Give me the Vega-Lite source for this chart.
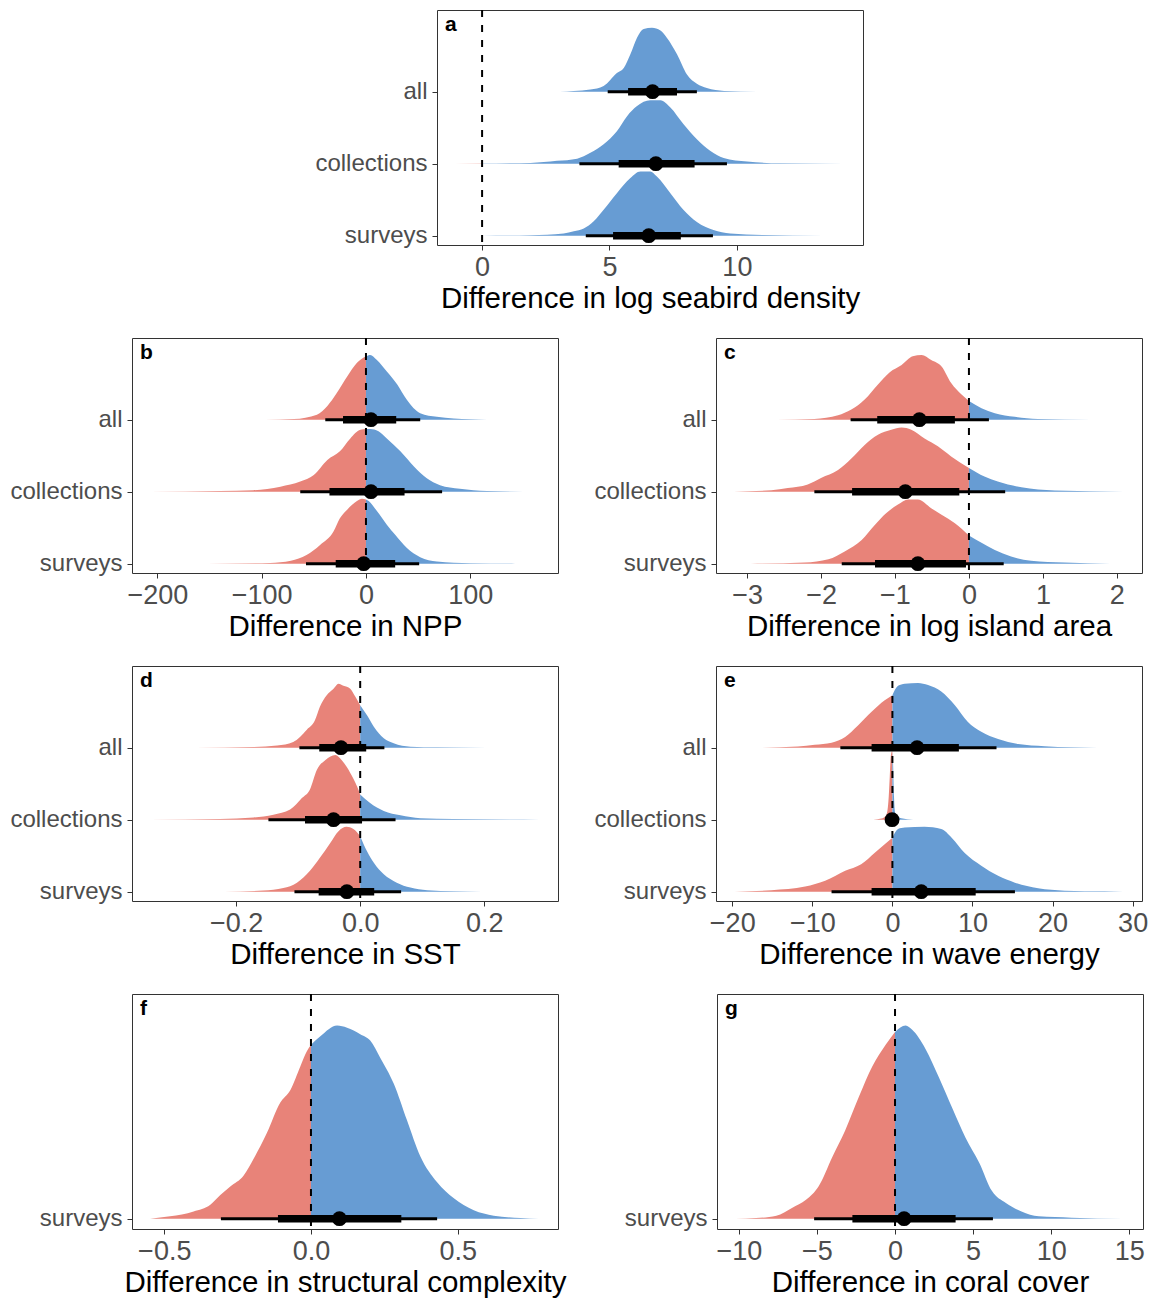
{
"$schema": "https://vega.github.io/schema/vega-lite/v6.json",
"padding": {"left": 9, "top": 8, "right": 5, "bottom": 5},
"spacing": 23,
"config": {
 "font": "Liberation Sans",
 "view": {"stroke": "#333333", "strokeWidth": 1},
 "title": {"anchor": "start", "frame": "group", "orient": "top", "fontSize": 21, "fontWeight": "bold", "font": "Liberation Sans", "color": "#000000", "offset": -26, "dx": 8, "baseline": "alphabetic"},
 "axis": {"grid": false, "domain": false, "tickColor": "#333333", "tickSize": 5, "tickWidth": 1, "labelColor": "#4D4D4D", "titleColor": "#000000", "labelFont": "Liberation Sans", "titleFont": "Liberation Sans", "titleFontWeight": "normal", "labelOverlap": false},
 "axisX": {"labelFontSize": 27, "titleFontSize": 29.5, "labelPadding": 4, "titlePadding": 4, "labelFlush": false},
 "axisY": {"labelFontSize": 24, "labelPadding": 5}
},
"datasets": {
 "dens": [
  {"p":"a","c":"all","x":3.05,"d":0},{"p":"a","c":"all","x":3.6,"d":0.01},{"p":"a","c":"all","x":4.25,"d":0.03},{"p":"a","c":"all","x":4.77,"d":0.08},{"p":"a","c":"all","x":5.29,"d":0.26},{"p":"a","c":"all","x":5.56,"d":0.33},{"p":"a","c":"all","x":5.82,"d":0.52},{"p":"a","c":"all","x":6.08,"d":0.75},{"p":"a","c":"all","x":6.34,"d":0.87},{"p":"a","c":"all","x":6.67,"d":0.89},{"p":"a","c":"all","x":7.0,"d":0.85},{"p":"a","c":"all","x":7.25,"d":0.75},{"p":"a","c":"all","x":7.65,"d":0.52},{"p":"a","c":"all","x":8.04,"d":0.24},{"p":"a","c":"all","x":8.43,"d":0.11},{"p":"a","c":"all","x":8.82,"d":0.05},{"p":"a","c":"all","x":9.5,"d":0.01},{"p":"a","c":"all","x":10.8,"d":0},
  {"p":"a","c":"collections","x":-1.05,"d":0},{"p":"a","c":"collections","x":0,"d":0.002},{"p":"a","c":"collections","x":1.9,"d":0.01},{"p":"a","c":"collections","x":2.94,"d":0.04},{"p":"a","c":"collections","x":3.73,"d":0.07},{"p":"a","c":"collections","x":4.25,"d":0.15},{"p":"a","c":"collections","x":4.77,"d":0.27},{"p":"a","c":"collections","x":5.29,"d":0.45},{"p":"a","c":"collections","x":5.69,"d":0.66},{"p":"a","c":"collections","x":6.08,"d":0.8},{"p":"a","c":"collections","x":6.6,"d":0.88},{"p":"a","c":"collections","x":7.0,"d":0.88},{"p":"a","c":"collections","x":7.39,"d":0.78},{"p":"a","c":"collections","x":7.9,"d":0.55},{"p":"a","c":"collections","x":8.43,"d":0.34},{"p":"a","c":"collections","x":8.95,"d":0.18},{"p":"a","c":"collections","x":9.48,"d":0.08},{"p":"a","c":"collections","x":10.4,"d":0.03},{"p":"a","c":"collections","x":11.7,"d":0.005},{"p":"a","c":"collections","x":14.2,"d":0},
  {"p":"a","c":"surveys","x":0,"d":0},{"p":"a","c":"surveys","x":1.9,"d":0.005},{"p":"a","c":"surveys","x":3.2,"d":0.03},{"p":"a","c":"surveys","x":3.6,"d":0.06},{"p":"a","c":"surveys","x":3.99,"d":0.1},{"p":"a","c":"surveys","x":4.38,"d":0.2},{"p":"a","c":"surveys","x":4.77,"d":0.36},{"p":"a","c":"surveys","x":5.29,"d":0.59},{"p":"a","c":"surveys","x":5.82,"d":0.8},{"p":"a","c":"surveys","x":6.21,"d":0.89},{"p":"a","c":"surveys","x":6.6,"d":0.89},{"p":"a","c":"surveys","x":6.86,"d":0.82},{"p":"a","c":"surveys","x":7.39,"d":0.59},{"p":"a","c":"surveys","x":7.9,"d":0.36},{"p":"a","c":"surveys","x":8.43,"d":0.19},{"p":"a","c":"surveys","x":9.08,"d":0.08},{"p":"a","c":"surveys","x":9.74,"d":0.03},{"p":"a","c":"surveys","x":11.0,"d":0.01},{"p":"a","c":"surveys","x":13.4,"d":0},

  {"p":"b","c":"all","x":-96.5,"d":0},{"p":"b","c":"all","x":-69,"d":0.01},{"p":"b","c":"all","x":-47,"d":0.07},{"p":"b","c":"all","x":-37,"d":0.19},{"p":"b","c":"all","x":-28,"d":0.37},{"p":"b","c":"all","x":-18,"d":0.6},{"p":"b","c":"all","x":-8.6,"d":0.79},{"p":"b","c":"all","x":0,"d":0.88},{"p":"b","c":"all","x":4,"d":0.9},{"p":"b","c":"all","x":10.5,"d":0.83},{"p":"b","c":"all","x":20,"d":0.67},{"p":"b","c":"all","x":30,"d":0.49},{"p":"b","c":"all","x":39,"d":0.28},{"p":"b","c":"all","x":52,"d":0.09},{"p":"b","c":"all","x":68,"d":0.04},{"p":"b","c":"all","x":100,"d":0.005},{"p":"b","c":"all","x":116,"d":0},
  {"p":"b","c":"collections","x":-207,"d":0},{"p":"b","c":"collections","x":-140,"d":0.01},{"p":"b","c":"collections","x":-108,"d":0.02},{"p":"b","c":"collections","x":-82,"d":0.07},{"p":"b","c":"collections","x":-63,"d":0.14},{"p":"b","c":"collections","x":-50,"d":0.23},{"p":"b","c":"collections","x":-37,"d":0.44},{"p":"b","c":"collections","x":-25,"d":0.56},{"p":"b","c":"collections","x":-15,"d":0.74},{"p":"b","c":"collections","x":-5.4,"d":0.86},{"p":"b","c":"collections","x":0,"d":0.87},{"p":"b","c":"collections","x":4,"d":0.87},{"p":"b","c":"collections","x":12,"d":0.84},{"p":"b","c":"collections","x":20,"d":0.74},{"p":"b","c":"collections","x":33,"d":0.56},{"p":"b","c":"collections","x":46,"d":0.35},{"p":"b","c":"collections","x":58,"d":0.19},{"p":"b","c":"collections","x":71,"d":0.09},{"p":"b","c":"collections","x":90,"d":0.04},{"p":"b","c":"collections","x":116,"d":0.01},{"p":"b","c":"collections","x":166,"d":0},
  {"p":"b","c":"surveys","x":-152,"d":0},{"p":"b","c":"surveys","x":-92,"d":0.01},{"p":"b","c":"surveys","x":-72,"d":0.04},{"p":"b","c":"surveys","x":-57,"d":0.12},{"p":"b","c":"surveys","x":-44,"d":0.26},{"p":"b","c":"surveys","x":-31,"d":0.45},{"p":"b","c":"surveys","x":-25,"d":0.63},{"p":"b","c":"surveys","x":-18,"d":0.75},{"p":"b","c":"surveys","x":-8.6,"d":0.87},{"p":"b","c":"surveys","x":-3.8,"d":0.9},{"p":"b","c":"surveys","x":0,"d":0.89},{"p":"b","c":"surveys","x":2.6,"d":0.87},{"p":"b","c":"surveys","x":10.5,"d":0.73},{"p":"b","c":"surveys","x":20,"d":0.54},{"p":"b","c":"surveys","x":28,"d":0.4},{"p":"b","c":"surveys","x":39,"d":0.22},{"p":"b","c":"surveys","x":52,"d":0.09},{"p":"b","c":"surveys","x":68,"d":0.03},{"p":"b","c":"surveys","x":100,"d":0.005},{"p":"b","c":"surveys","x":143,"d":0},

  {"p":"c","c":"all","x":-2.6,"d":0},{"p":"c","c":"all","x":-2.09,"d":0.01},{"p":"c","c":"all","x":-1.77,"d":0.06},{"p":"c","c":"all","x":-1.59,"d":0.14},{"p":"c","c":"all","x":-1.41,"d":0.28},{"p":"c","c":"all","x":-1.23,"d":0.49},{"p":"c","c":"all","x":-1.07,"d":0.66},{"p":"c","c":"all","x":-0.91,"d":0.76},{"p":"c","c":"all","x":-0.76,"d":0.88},{"p":"c","c":"all","x":-0.64,"d":0.9},{"p":"c","c":"all","x":-0.51,"d":0.83},{"p":"c","c":"all","x":-0.37,"d":0.74},{"p":"c","c":"all","x":-0.24,"d":0.51},{"p":"c","c":"all","x":-0.1,"d":0.35},{"p":"c","c":"all","x":0,"d":0.26},{"p":"c","c":"all","x":0.17,"d":0.16},{"p":"c","c":"all","x":0.35,"d":0.09},{"p":"c","c":"all","x":0.62,"d":0.04},{"p":"c","c":"all","x":0.93,"d":0.01},{"p":"c","c":"all","x":1.65,"d":0},
  {"p":"c","c":"collections","x":-3.18,"d":0},{"p":"c","c":"collections","x":-2.67,"d":0.02},{"p":"c","c":"collections","x":-2.45,"d":0.05},{"p":"c","c":"collections","x":-2.18,"d":0.1},{"p":"c","c":"collections","x":-2.0,"d":0.19},{"p":"c","c":"collections","x":-1.77,"d":0.3},{"p":"c","c":"collections","x":-1.59,"d":0.46},{"p":"c","c":"collections","x":-1.41,"d":0.65},{"p":"c","c":"collections","x":-1.23,"d":0.79},{"p":"c","c":"collections","x":-1.05,"d":0.86},{"p":"c","c":"collections","x":-0.91,"d":0.89},{"p":"c","c":"collections","x":-0.78,"d":0.86},{"p":"c","c":"collections","x":-0.6,"d":0.74},{"p":"c","c":"collections","x":-0.42,"d":0.63},{"p":"c","c":"collections","x":-0.24,"d":0.49},{"p":"c","c":"collections","x":0,"d":0.33},{"p":"c","c":"collections","x":0.21,"d":0.21},{"p":"c","c":"collections","x":0.39,"d":0.14},{"p":"c","c":"collections","x":0.71,"d":0.06},{"p":"c","c":"collections","x":1.16,"d":0.015},{"p":"c","c":"collections","x":2.09,"d":0},
  {"p":"c","c":"surveys","x":-2.95,"d":0},{"p":"c","c":"surveys","x":-2.22,"d":0.015},{"p":"c","c":"surveys","x":-1.9,"d":0.06},{"p":"c","c":"surveys","x":-1.68,"d":0.17},{"p":"c","c":"surveys","x":-1.45,"d":0.33},{"p":"c","c":"surveys","x":-1.27,"d":0.54},{"p":"c","c":"surveys","x":-1.12,"d":0.7},{"p":"c","c":"surveys","x":-0.96,"d":0.82},{"p":"c","c":"surveys","x":-0.82,"d":0.89},{"p":"c","c":"surveys","x":-0.69,"d":0.89},{"p":"c","c":"surveys","x":-0.51,"d":0.77},{"p":"c","c":"surveys","x":-0.37,"d":0.68},{"p":"c","c":"surveys","x":-0.19,"d":0.56},{"p":"c","c":"surveys","x":0,"d":0.39},{"p":"c","c":"surveys","x":0.17,"d":0.29},{"p":"c","c":"surveys","x":0.35,"d":0.19},{"p":"c","c":"surveys","x":0.57,"d":0.1},{"p":"c","c":"surveys","x":0.84,"d":0.04},{"p":"c","c":"surveys","x":1.29,"d":0.015},{"p":"c","c":"surveys","x":1.91,"d":0},

  {"p":"d","c":"all","x":-0.265,"d":0},{"p":"d","c":"all","x":-0.172,"d":0.01},{"p":"d","c":"all","x":-0.134,"d":0.03},{"p":"d","c":"all","x":-0.108,"d":0.08},{"p":"d","c":"all","x":-0.086,"d":0.25},{"p":"d","c":"all","x":-0.073,"d":0.38},{"p":"d","c":"all","x":-0.065,"d":0.57},{"p":"d","c":"all","x":-0.054,"d":0.73},{"p":"d","c":"all","x":-0.043,"d":0.82},{"p":"d","c":"all","x":-0.035,"d":0.89},{"p":"d","c":"all","x":-0.027,"d":0.86},{"p":"d","c":"all","x":-0.016,"d":0.82},{"p":"d","c":"all","x":-0.008,"d":0.71},{"p":"d","c":"all","x":0,"d":0.59},{"p":"d","c":"all","x":0.011,"d":0.45},{"p":"d","c":"all","x":0.022,"d":0.29},{"p":"d","c":"all","x":0.038,"d":0.13},{"p":"d","c":"all","x":0.054,"d":0.06},{"p":"d","c":"all","x":0.081,"d":0.014},{"p":"d","c":"all","x":0.124,"d":0.005},{"p":"d","c":"all","x":0.204,"d":0},
  {"p":"d","c":"collections","x":-0.339,"d":0},{"p":"d","c":"collections","x":-0.226,"d":0.01},{"p":"d","c":"collections","x":-0.172,"d":0.03},{"p":"d","c":"collections","x":-0.14,"d":0.07},{"p":"d","c":"collections","x":-0.113,"d":0.14},{"p":"d","c":"collections","x":-0.094,"d":0.3},{"p":"d","c":"collections","x":-0.081,"d":0.42},{"p":"d","c":"collections","x":-0.07,"d":0.69},{"p":"d","c":"collections","x":-0.056,"d":0.83},{"p":"d","c":"collections","x":-0.04,"d":0.9},{"p":"d","c":"collections","x":-0.03,"d":0.83},{"p":"d","c":"collections","x":-0.016,"d":0.65},{"p":"d","c":"collections","x":-0.005,"d":0.46},{"p":"d","c":"collections","x":0,"d":0.35},{"p":"d","c":"collections","x":0.016,"d":0.23},{"p":"d","c":"collections","x":0.038,"d":0.12},{"p":"d","c":"collections","x":0.065,"d":0.06},{"p":"d","c":"collections","x":0.097,"d":0.02},{"p":"d","c":"collections","x":0.15,"d":0.01},{"p":"d","c":"collections","x":0.289,"d":0},
  {"p":"d","c":"surveys","x":-0.219,"d":0},{"p":"d","c":"surveys","x":-0.156,"d":0.015},{"p":"d","c":"surveys","x":-0.124,"d":0.05},{"p":"d","c":"surveys","x":-0.102,"d":0.125},{"p":"d","c":"surveys","x":-0.081,"d":0.29},{"p":"d","c":"surveys","x":-0.065,"d":0.47},{"p":"d","c":"surveys","x":-0.048,"d":0.68},{"p":"d","c":"surveys","x":-0.035,"d":0.84},{"p":"d","c":"surveys","x":-0.022,"d":0.9},{"p":"d","c":"surveys","x":-0.011,"d":0.87},{"p":"d","c":"surveys","x":0,"d":0.77},{"p":"d","c":"surveys","x":0.011,"d":0.56},{"p":"d","c":"surveys","x":0.022,"d":0.4},{"p":"d","c":"surveys","x":0.038,"d":0.24},{"p":"d","c":"surveys","x":0.059,"d":0.125},{"p":"d","c":"surveys","x":0.081,"d":0.056},{"p":"d","c":"surveys","x":0.108,"d":0.02},{"p":"d","c":"surveys","x":0.151,"d":0.005},{"p":"d","c":"surveys","x":0.196,"d":0},

  {"p":"e","c":"all","x":-16.5,"d":0},{"p":"e","c":"all","x":-11.8,"d":0.015},{"p":"e","c":"all","x":-9.7,"d":0.04},{"p":"e","c":"all","x":-7.6,"d":0.07},{"p":"e","c":"all","x":-5.9,"d":0.15},{"p":"e","c":"all","x":-4.3,"d":0.31},{"p":"e","c":"all","x":-2.6,"d":0.5},{"p":"e","c":"all","x":-0.96,"d":0.66},{"p":"e","c":"all","x":0,"d":0.73},{"p":"e","c":"all","x":0.7,"d":0.86},{"p":"e","c":"all","x":1.54,"d":0.89},{"p":"e","c":"all","x":3.2,"d":0.9},{"p":"e","c":"all","x":4.45,"d":0.87},{"p":"e","c":"all","x":6.1,"d":0.78},{"p":"e","c":"all","x":7.8,"d":0.59},{"p":"e","c":"all","x":9.4,"d":0.36},{"p":"e","c":"all","x":11.1,"d":0.22},{"p":"e","c":"all","x":13.2,"d":0.12},{"p":"e","c":"all","x":15.7,"d":0.05},{"p":"e","c":"all","x":19,"d":0.02},{"p":"e","c":"all","x":22.3,"d":0.005},{"p":"e","c":"all","x":25.6,"d":0},
  {"p":"e","c":"collections","x":-2.4,"d":0},{"p":"e","c":"collections","x":-1.37,"d":0.015},{"p":"e","c":"collections","x":-0.75,"d":0.07},{"p":"e","c":"collections","x":-0.46,"d":0.32},{"p":"e","c":"collections","x":-0.33,"d":0.6},{"p":"e","c":"collections","x":-0.2,"d":0.88},{"p":"e","c":"collections","x":-0.04,"d":0.95},{"p":"e","c":"collections","x":0,"d":0.93},{"p":"e","c":"collections","x":0.08,"d":0.79},{"p":"e","c":"collections","x":0.2,"d":0.32},{"p":"e","c":"collections","x":0.37,"d":0.09},{"p":"e","c":"collections","x":1.1,"d":0.02},{"p":"e","c":"collections","x":2.6,"d":0},
  {"p":"e","c":"surveys","x":-19.7,"d":0},{"p":"e","c":"surveys","x":-15.1,"d":0.02},{"p":"e","c":"surveys","x":-10.9,"d":0.07},{"p":"e","c":"surveys","x":-8.4,"d":0.15},{"p":"e","c":"surveys","x":-5.9,"d":0.29},{"p":"e","c":"surveys","x":-3.9,"d":0.38},{"p":"e","c":"surveys","x":-2.2,"d":0.54},{"p":"e","c":"surveys","x":-0.96,"d":0.66},{"p":"e","c":"surveys","x":0,"d":0.75},{"p":"e","c":"surveys","x":0.7,"d":0.87},{"p":"e","c":"surveys","x":1.54,"d":0.89},{"p":"e","c":"surveys","x":4.0,"d":0.9},{"p":"e","c":"surveys","x":6.1,"d":0.87},{"p":"e","c":"surveys","x":7.4,"d":0.75},{"p":"e","c":"surveys","x":9.0,"d":0.54},{"p":"e","c":"surveys","x":11.1,"d":0.36},{"p":"e","c":"surveys","x":13.2,"d":0.22},{"p":"e","c":"surveys","x":15.3,"d":0.125},{"p":"e","c":"surveys","x":18.2,"d":0.046},{"p":"e","c":"surveys","x":21.5,"d":0.014},{"p":"e","c":"surveys","x":26.5,"d":0.005},{"p":"e","c":"surveys","x":28.8,"d":0},

  {"p":"f","c":"surveys","x":-0.548,"d":0},{"p":"f","c":"surveys","x":-0.48,"d":0.011},{"p":"f","c":"surveys","x":-0.4,"d":0.034},{"p":"f","c":"surveys","x":-0.343,"d":0.065},{"p":"f","c":"surveys","x":-0.309,"d":0.11},{"p":"f","c":"surveys","x":-0.275,"d":0.15},{"p":"f","c":"surveys","x":-0.23,"d":0.2},{"p":"f","c":"surveys","x":-0.195,"d":0.28},{"p":"f","c":"surveys","x":-0.15,"d":0.4},{"p":"f","c":"surveys","x":-0.105,"d":0.54},{"p":"f","c":"surveys","x":-0.07,"d":0.6},{"p":"f","c":"surveys","x":-0.036,"d":0.71},{"p":"f","c":"surveys","x":-0.014,"d":0.78},{"p":"f","c":"surveys","x":0,"d":0.81},{"p":"f","c":"surveys","x":0.032,"d":0.85},{"p":"f","c":"surveys","x":0.089,"d":0.9},{"p":"f","c":"surveys","x":0.123,"d":0.89},{"p":"f","c":"surveys","x":0.168,"d":0.86},{"p":"f","c":"surveys","x":0.202,"d":0.83},{"p":"f","c":"surveys","x":0.236,"d":0.75},{"p":"f","c":"surveys","x":0.282,"d":0.63},{"p":"f","c":"surveys","x":0.327,"d":0.46},{"p":"f","c":"surveys","x":0.373,"d":0.29},{"p":"f","c":"surveys","x":0.43,"d":0.17},{"p":"f","c":"surveys","x":0.486,"d":0.096},{"p":"f","c":"surveys","x":0.555,"d":0.039},{"p":"f","c":"surveys","x":0.623,"d":0.014},{"p":"f","c":"surveys","x":0.714,"d":0.003},{"p":"f","c":"surveys","x":0.776,"d":0},

  {"p":"g","c":"surveys","x":-10.2,"d":0},{"p":"g","c":"surveys","x":-8.9,"d":0.003},{"p":"g","c":"surveys","x":-7.6,"d":0.014},{"p":"g","c":"surveys","x":-6.6,"d":0.05},{"p":"g","c":"surveys","x":-5.7,"d":0.088},{"p":"g","c":"surveys","x":-4.9,"d":0.15},{"p":"g","c":"surveys","x":-4.0,"d":0.29},{"p":"g","c":"surveys","x":-3.2,"d":0.41},{"p":"g","c":"surveys","x":-2.3,"d":0.57},{"p":"g","c":"surveys","x":-1.45,"d":0.71},{"p":"g","c":"surveys","x":-0.6,"d":0.81},{"p":"g","c":"surveys","x":0,"d":0.87},{"p":"g","c":"surveys","x":0.68,"d":0.9},{"p":"g","c":"surveys","x":1.1,"d":0.88},{"p":"g","c":"surveys","x":1.96,"d":0.79},{"p":"g","c":"surveys","x":2.8,"d":0.66},{"p":"g","c":"surveys","x":3.7,"d":0.51},{"p":"g","c":"surveys","x":4.5,"d":0.38},{"p":"g","c":"surveys","x":5.4,"d":0.26},{"p":"g","c":"surveys","x":6.2,"d":0.13},{"p":"g","c":"surveys","x":7.1,"d":0.073},{"p":"g","c":"surveys","x":8.1,"d":0.034},{"p":"g","c":"surveys","x":9.2,"d":0.011},{"p":"g","c":"surveys","x":11.3,"d":0.005},{"p":"g","c":"surveys","x":14.6,"d":0}
 ],
 "iv": [
  {"p":"a","c":"all","k":"pt","x":6.69},{"p":"a","c":"all","k":"thick","x":5.73,"x2":7.65},{"p":"a","c":"all","k":"thin","x":4.93,"x2":8.43},
  {"p":"a","c":"collections","k":"pt","x":6.82},{"p":"a","c":"collections","k":"thick","x":5.36,"x2":8.34},{"p":"a","c":"collections","k":"thin","x":3.82,"x2":9.61},
  {"p":"a","c":"surveys","k":"pt","x":6.54},{"p":"a","c":"surveys","k":"thick","x":5.14,"x2":7.8},{"p":"a","c":"surveys","k":"thin","x":4.07,"x2":9.06},
  {"p":"b","c":"all","k":"pt","x":4.8},{"p":"b","c":"all","k":"thick","x":-22,"x2":29},{"p":"b","c":"all","k":"thin","x":-39,"x2":52},
  {"p":"b","c":"collections","k":"pt","x":4.8},{"p":"b","c":"collections","k":"thick","x":-35,"x2":37},{"p":"b","c":"collections","k":"thin","x":-63,"x2":73},
  {"p":"b","c":"surveys","k":"pt","x":-2.2},{"p":"b","c":"surveys","k":"thick","x":-29,"x2":28},{"p":"b","c":"surveys","k":"thin","x":-57.5,"x2":51},
  {"p":"c","c":"all","k":"pt","x":-0.67},{"p":"c","c":"all","k":"thick","x":-1.24,"x2":-0.19},{"p":"c","c":"all","k":"thin","x":-1.6,"x2":0.27},
  {"p":"c","c":"collections","k":"pt","x":-0.86},{"p":"c","c":"collections","k":"thick","x":-1.58,"x2":-0.13},{"p":"c","c":"collections","k":"thin","x":-2.09,"x2":0.49},
  {"p":"c","c":"surveys","k":"pt","x":-0.69},{"p":"c","c":"surveys","k":"thick","x":-1.27,"x2":-0.04},{"p":"c","c":"surveys","k":"thin","x":-1.72,"x2":0.47},
  {"p":"d","c":"all","k":"pt","x":-0.031},{"p":"d","c":"all","k":"thick","x":-0.066,"x2":0.0097},{"p":"d","c":"all","k":"thin","x":-0.098,"x2":0.039},
  {"p":"d","c":"collections","k":"pt","x":-0.043},{"p":"d","c":"collections","k":"thick","x":-0.089,"x2":0.003},{"p":"d","c":"collections","k":"thin","x":-0.148,"x2":0.057},
  {"p":"d","c":"surveys","k":"pt","x":-0.0215},{"p":"d","c":"surveys","k":"thick","x":-0.067,"x2":0.0226},{"p":"d","c":"surveys","k":"thin","x":-0.106,"x2":0.066},
  {"p":"e","c":"all","k":"pt","x":3.08},{"p":"e","c":"all","k":"thick","x":-2.6,"x2":8.3},{"p":"e","c":"all","k":"thin","x":-6.5,"x2":13},
  {"p":"e","c":"collections","k":"pt","x":-0.04},{"p":"e","c":"collections","k":"thick","x":-0.3,"x2":0.2},{"p":"e","c":"collections","k":"thin","x":-0.6,"x2":0.5},
  {"p":"e","c":"surveys","k":"pt","x":3.6},{"p":"e","c":"surveys","k":"thick","x":-2.6,"x2":10.4},{"p":"e","c":"surveys","k":"thin","x":-7.6,"x2":15.3},
  {"p":"f","c":"surveys","k":"pt","x":0.097},{"p":"f","c":"surveys","k":"thick","x":-0.1125,"x2":0.308},{"p":"f","c":"surveys","k":"thin","x":-0.307,"x2":0.43},
  {"p":"g","c":"surveys","k":"pt","x":0.58},{"p":"g","c":"surveys","k":"thick","x":-2.73,"x2":3.88},{"p":"g","c":"surveys","k":"thin","x":-5.18,"x2":6.27}
 ]
},
"vconcat": [
 {"spacing": 34, "hconcat": [
  {"width": 148, "height": 10, "view": {"stroke": null}, "data": {"values": [{"v": 0}]}, "mark": {"type": "point", "opacity": 0}, "encoding": {}},
  {"width": 426, "height": 235, "title": "a",
   "encoding": {"x": {"field": "x", "type": "quantitative", "title": "Difference in log seabird density", "scale": {"domain": [-1.77, 14.95], "nice": false, "zero": false}, "axis": {"values": [0, 5, 10]}}},
   "layer": [
    {"data": {"name": "dens"}, "transform": [{"filter": "datum.p == 'a' && datum.x <= 0"}, {"calculate": "datum.c == 'all' ? 2 : (datum.c == 'collections' ? 1 : 0)", "as": "b"}, {"calculate": "datum.b + datum.d", "as": "t"}], "mark": {"type": "area", "color": "#E88379", "interpolate": "monotone"}, "encoding": {"y": {"field": "t", "type": "quantitative", "stack": null, "title": null, "scale": {"domain": [-0.13, 3.135], "nice": false, "zero": false}, "axis": {"values": [0, 1, 2], "labelExpr": "datum.value == 2 ? 'all' : datum.value == 1 ? 'collections' : 'surveys'", "minExtent": 122}}, "y2": {"field": "b"}, "detail": {"field": "c"}}},
    {"data": {"name": "dens"}, "transform": [{"filter": "datum.p == 'a' && datum.x >= 0"}, {"calculate": "datum.c == 'all' ? 2 : (datum.c == 'collections' ? 1 : 0)", "as": "b"}, {"calculate": "datum.b + datum.d", "as": "t"}], "mark": {"type": "area", "color": "#679CD3", "interpolate": "monotone"}, "encoding": {"y": {"field": "t", "type": "quantitative", "stack": null, "title": null, "scale": {"domain": [-0.13, 3.135], "nice": false, "zero": false}}, "y2": {"field": "b"}, "detail": {"field": "c"}}},
    {"data": {"values": [{"x": 0}]}, "mark": {"type": "rule", "color": "black", "strokeWidth": 2, "strokeDash": [7, 8]}, "encoding": {}},
    {"data": {"name": "iv"}, "transform": [{"filter": "datum.p == 'a' && datum.k == 'thin'"}, {"calculate": "datum.c == 'all' ? 2 : (datum.c == 'collections' ? 1 : 0)", "as": "t"}], "mark": {"type": "rule", "color": "black", "strokeWidth": 3}, "encoding": {"y": {"field": "t", "type": "quantitative", "title": null, "scale": {"domain": [-0.13, 3.135], "nice": false, "zero": false}}, "x2": {"field": "x2"}}},
    {"data": {"name": "iv"}, "transform": [{"filter": "datum.p == 'a' && datum.k == 'thick'"}, {"calculate": "datum.c == 'all' ? 2 : (datum.c == 'collections' ? 1 : 0)", "as": "t"}], "mark": {"type": "rule", "color": "black", "strokeWidth": 7.5}, "encoding": {"y": {"field": "t", "type": "quantitative", "title": null, "scale": {"domain": [-0.13, 3.135], "nice": false, "zero": false}}, "x2": {"field": "x2"}}},
    {"data": {"name": "iv"}, "transform": [{"filter": "datum.p == 'a' && datum.k == 'pt'"}, {"calculate": "datum.c == 'all' ? 2 : (datum.c == 'collections' ? 1 : 0)", "as": "t"}], "mark": {"type": "circle", "color": "black", "opacity": 1, "size": 220}, "encoding": {"y": {"field": "t", "type": "quantitative", "title": null, "scale": {"domain": [-0.13, 3.135], "nice": false, "zero": false}}}}
   ]
  }
 ]},
 {"spacing": 34, "hconcat": [
  {"width": 426, "height": 235, "title": "b",
   "encoding": {"x": {"field": "x", "type": "quantitative", "title": "Difference in NPP", "scale": {"domain": [-224.3, 184.1], "nice": false, "zero": false}, "axis": {"values": [-200, -100, 0, 100]}}},
   "layer": [
    {"data": {"name": "dens"}, "transform": [{"filter": "datum.p == 'b' && datum.x <= 0"}, {"calculate": "datum.c == 'all' ? 2 : (datum.c == 'collections' ? 1 : 0)", "as": "b"}, {"calculate": "datum.b + datum.d", "as": "t"}], "mark": {"type": "area", "color": "#E88379", "interpolate": "monotone"}, "encoding": {"y": {"field": "t", "type": "quantitative", "stack": null, "title": null, "scale": {"domain": [-0.13, 3.135], "nice": false, "zero": false}, "axis": {"values": [0, 1, 2], "labelExpr": "datum.value == 2 ? 'all' : datum.value == 1 ? 'collections' : 'surveys'", "minExtent": 122}}, "y2": {"field": "b"}, "detail": {"field": "c"}}},
    {"data": {"name": "dens"}, "transform": [{"filter": "datum.p == 'b' && datum.x >= 0"}, {"calculate": "datum.c == 'all' ? 2 : (datum.c == 'collections' ? 1 : 0)", "as": "b"}, {"calculate": "datum.b + datum.d", "as": "t"}], "mark": {"type": "area", "color": "#679CD3", "interpolate": "monotone"}, "encoding": {"y": {"field": "t", "type": "quantitative", "stack": null, "title": null, "scale": {"domain": [-0.13, 3.135], "nice": false, "zero": false}}, "y2": {"field": "b"}, "detail": {"field": "c"}}},
    {"data": {"values": [{"x": 0}]}, "mark": {"type": "rule", "color": "black", "strokeWidth": 2, "strokeDash": [7, 8]}, "encoding": {}},
    {"data": {"name": "iv"}, "transform": [{"filter": "datum.p == 'b' && datum.k == 'thin'"}, {"calculate": "datum.c == 'all' ? 2 : (datum.c == 'collections' ? 1 : 0)", "as": "t"}], "mark": {"type": "rule", "color": "black", "strokeWidth": 3}, "encoding": {"y": {"field": "t", "type": "quantitative", "title": null, "scale": {"domain": [-0.13, 3.135], "nice": false, "zero": false}}, "x2": {"field": "x2"}}},
    {"data": {"name": "iv"}, "transform": [{"filter": "datum.p == 'b' && datum.k == 'thick'"}, {"calculate": "datum.c == 'all' ? 2 : (datum.c == 'collections' ? 1 : 0)", "as": "t"}], "mark": {"type": "rule", "color": "black", "strokeWidth": 7.5}, "encoding": {"y": {"field": "t", "type": "quantitative", "title": null, "scale": {"domain": [-0.13, 3.135], "nice": false, "zero": false}}, "x2": {"field": "x2"}}},
    {"data": {"name": "iv"}, "transform": [{"filter": "datum.p == 'b' && datum.k == 'pt'"}, {"calculate": "datum.c == 'all' ? 2 : (datum.c == 'collections' ? 1 : 0)", "as": "t"}], "mark": {"type": "circle", "color": "black", "opacity": 1, "size": 220}, "encoding": {"y": {"field": "t", "type": "quantitative", "title": null, "scale": {"domain": [-0.13, 3.135], "nice": false, "zero": false}}}}
   ]
  },
  {"width": 426, "height": 235, "title": "c",
   "encoding": {"x": {"field": "x", "type": "quantitative", "title": "Difference in log island area", "scale": {"domain": [-3.42, 2.34], "nice": false, "zero": false}, "axis": {"values": [-3, -2, -1, 0, 1, 2]}}},
   "layer": [
    {"data": {"name": "dens"}, "transform": [{"filter": "datum.p == 'c' && datum.x <= 0"}, {"calculate": "datum.c == 'all' ? 2 : (datum.c == 'collections' ? 1 : 0)", "as": "b"}, {"calculate": "datum.b + datum.d", "as": "t"}], "mark": {"type": "area", "color": "#E88379", "interpolate": "monotone"}, "encoding": {"y": {"field": "t", "type": "quantitative", "stack": null, "title": null, "scale": {"domain": [-0.13, 3.135], "nice": false, "zero": false}, "axis": {"values": [0, 1, 2], "labelExpr": "datum.value == 2 ? 'all' : datum.value == 1 ? 'collections' : 'surveys'", "minExtent": 122}}, "y2": {"field": "b"}, "detail": {"field": "c"}}},
    {"data": {"name": "dens"}, "transform": [{"filter": "datum.p == 'c' && datum.x >= 0"}, {"calculate": "datum.c == 'all' ? 2 : (datum.c == 'collections' ? 1 : 0)", "as": "b"}, {"calculate": "datum.b + datum.d", "as": "t"}], "mark": {"type": "area", "color": "#679CD3", "interpolate": "monotone"}, "encoding": {"y": {"field": "t", "type": "quantitative", "stack": null, "title": null, "scale": {"domain": [-0.13, 3.135], "nice": false, "zero": false}}, "y2": {"field": "b"}, "detail": {"field": "c"}}},
    {"data": {"values": [{"x": 0}]}, "mark": {"type": "rule", "color": "black", "strokeWidth": 2, "strokeDash": [7, 8]}, "encoding": {}},
    {"data": {"name": "iv"}, "transform": [{"filter": "datum.p == 'c' && datum.k == 'thin'"}, {"calculate": "datum.c == 'all' ? 2 : (datum.c == 'collections' ? 1 : 0)", "as": "t"}], "mark": {"type": "rule", "color": "black", "strokeWidth": 3}, "encoding": {"y": {"field": "t", "type": "quantitative", "title": null, "scale": {"domain": [-0.13, 3.135], "nice": false, "zero": false}}, "x2": {"field": "x2"}}},
    {"data": {"name": "iv"}, "transform": [{"filter": "datum.p == 'c' && datum.k == 'thick'"}, {"calculate": "datum.c == 'all' ? 2 : (datum.c == 'collections' ? 1 : 0)", "as": "t"}], "mark": {"type": "rule", "color": "black", "strokeWidth": 7.5}, "encoding": {"y": {"field": "t", "type": "quantitative", "title": null, "scale": {"domain": [-0.13, 3.135], "nice": false, "zero": false}}, "x2": {"field": "x2"}}},
    {"data": {"name": "iv"}, "transform": [{"filter": "datum.p == 'c' && datum.k == 'pt'"}, {"calculate": "datum.c == 'all' ? 2 : (datum.c == 'collections' ? 1 : 0)", "as": "t"}], "mark": {"type": "circle", "color": "black", "opacity": 1, "size": 220}, "encoding": {"y": {"field": "t", "type": "quantitative", "title": null, "scale": {"domain": [-0.13, 3.135], "nice": false, "zero": false}}}}
   ]
  }
 ]},
 {"spacing": 34, "hconcat": [
  {"width": 426, "height": 235, "title": "d",
   "encoding": {"x": {"field": "x", "type": "quantitative", "title": "Difference in SST", "scale": {"domain": [-0.368, 0.319], "nice": false, "zero": false}, "axis": {"values": [-0.2, 0, 0.2], "format": ".1f"}}},
   "layer": [
    {"data": {"name": "dens"}, "transform": [{"filter": "datum.p == 'd' && datum.x <= 0"}, {"calculate": "datum.c == 'all' ? 2 : (datum.c == 'collections' ? 1 : 0)", "as": "b"}, {"calculate": "datum.b + datum.d", "as": "t"}], "mark": {"type": "area", "color": "#E88379", "interpolate": "monotone"}, "encoding": {"y": {"field": "t", "type": "quantitative", "stack": null, "title": null, "scale": {"domain": [-0.13, 3.135], "nice": false, "zero": false}, "axis": {"values": [0, 1, 2], "labelExpr": "datum.value == 2 ? 'all' : datum.value == 1 ? 'collections' : 'surveys'", "minExtent": 122}}, "y2": {"field": "b"}, "detail": {"field": "c"}}},
    {"data": {"name": "dens"}, "transform": [{"filter": "datum.p == 'd' && datum.x >= 0"}, {"calculate": "datum.c == 'all' ? 2 : (datum.c == 'collections' ? 1 : 0)", "as": "b"}, {"calculate": "datum.b + datum.d", "as": "t"}], "mark": {"type": "area", "color": "#679CD3", "interpolate": "monotone"}, "encoding": {"y": {"field": "t", "type": "quantitative", "stack": null, "title": null, "scale": {"domain": [-0.13, 3.135], "nice": false, "zero": false}}, "y2": {"field": "b"}, "detail": {"field": "c"}}},
    {"data": {"values": [{"x": 0}]}, "mark": {"type": "rule", "color": "black", "strokeWidth": 2, "strokeDash": [7, 8]}, "encoding": {}},
    {"data": {"name": "iv"}, "transform": [{"filter": "datum.p == 'd' && datum.k == 'thin'"}, {"calculate": "datum.c == 'all' ? 2 : (datum.c == 'collections' ? 1 : 0)", "as": "t"}], "mark": {"type": "rule", "color": "black", "strokeWidth": 3}, "encoding": {"y": {"field": "t", "type": "quantitative", "title": null, "scale": {"domain": [-0.13, 3.135], "nice": false, "zero": false}}, "x2": {"field": "x2"}}},
    {"data": {"name": "iv"}, "transform": [{"filter": "datum.p == 'd' && datum.k == 'thick'"}, {"calculate": "datum.c == 'all' ? 2 : (datum.c == 'collections' ? 1 : 0)", "as": "t"}], "mark": {"type": "rule", "color": "black", "strokeWidth": 7.5}, "encoding": {"y": {"field": "t", "type": "quantitative", "title": null, "scale": {"domain": [-0.13, 3.135], "nice": false, "zero": false}}, "x2": {"field": "x2"}}},
    {"data": {"name": "iv"}, "transform": [{"filter": "datum.p == 'd' && datum.k == 'pt'"}, {"calculate": "datum.c == 'all' ? 2 : (datum.c == 'collections' ? 1 : 0)", "as": "t"}], "mark": {"type": "circle", "color": "black", "opacity": 1, "size": 220}, "encoding": {"y": {"field": "t", "type": "quantitative", "title": null, "scale": {"domain": [-0.13, 3.135], "nice": false, "zero": false}}}}
   ]
  },
  {"width": 426, "height": 235, "title": "e",
   "encoding": {"x": {"field": "x", "type": "quantitative", "title": "Difference in wave energy", "scale": {"domain": [-22.03, 31.17], "nice": false, "zero": false}, "axis": {"values": [-20, -10, 0, 10, 20, 30]}}},
   "layer": [
    {"data": {"name": "dens"}, "transform": [{"filter": "datum.p == 'e' && datum.x <= 0"}, {"calculate": "datum.c == 'all' ? 2 : (datum.c == 'collections' ? 1 : 0)", "as": "b"}, {"calculate": "datum.b + datum.d", "as": "t"}], "mark": {"type": "area", "color": "#E88379", "interpolate": "monotone"}, "encoding": {"y": {"field": "t", "type": "quantitative", "stack": null, "title": null, "scale": {"domain": [-0.13, 3.135], "nice": false, "zero": false}, "axis": {"values": [0, 1, 2], "labelExpr": "datum.value == 2 ? 'all' : datum.value == 1 ? 'collections' : 'surveys'", "minExtent": 122}}, "y2": {"field": "b"}, "detail": {"field": "c"}}},
    {"data": {"name": "dens"}, "transform": [{"filter": "datum.p == 'e' && datum.x >= 0"}, {"calculate": "datum.c == 'all' ? 2 : (datum.c == 'collections' ? 1 : 0)", "as": "b"}, {"calculate": "datum.b + datum.d", "as": "t"}], "mark": {"type": "area", "color": "#679CD3", "interpolate": "monotone"}, "encoding": {"y": {"field": "t", "type": "quantitative", "stack": null, "title": null, "scale": {"domain": [-0.13, 3.135], "nice": false, "zero": false}}, "y2": {"field": "b"}, "detail": {"field": "c"}}},
    {"data": {"values": [{"x": 0}]}, "mark": {"type": "rule", "color": "black", "strokeWidth": 2, "strokeDash": [7, 8]}, "encoding": {}},
    {"data": {"name": "iv"}, "transform": [{"filter": "datum.p == 'e' && datum.k == 'thin'"}, {"calculate": "datum.c == 'all' ? 2 : (datum.c == 'collections' ? 1 : 0)", "as": "t"}], "mark": {"type": "rule", "color": "black", "strokeWidth": 3}, "encoding": {"y": {"field": "t", "type": "quantitative", "title": null, "scale": {"domain": [-0.13, 3.135], "nice": false, "zero": false}}, "x2": {"field": "x2"}}},
    {"data": {"name": "iv"}, "transform": [{"filter": "datum.p == 'e' && datum.k == 'thick'"}, {"calculate": "datum.c == 'all' ? 2 : (datum.c == 'collections' ? 1 : 0)", "as": "t"}], "mark": {"type": "rule", "color": "black", "strokeWidth": 7.5}, "encoding": {"y": {"field": "t", "type": "quantitative", "title": null, "scale": {"domain": [-0.13, 3.135], "nice": false, "zero": false}}, "x2": {"field": "x2"}}},
    {"data": {"name": "iv"}, "transform": [{"filter": "datum.p == 'e' && datum.k == 'pt'"}, {"calculate": "datum.c == 'all' ? 2 : (datum.c == 'collections' ? 1 : 0)", "as": "t"}], "mark": {"type": "circle", "color": "black", "opacity": 1, "size": 220}, "encoding": {"y": {"field": "t", "type": "quantitative", "title": null, "scale": {"domain": [-0.13, 3.135], "nice": false, "zero": false}}}}
   ]
  }
 ]},
 {"spacing": 27, "hconcat": [
  {"width": 426, "height": 235, "title": "f",
   "encoding": {"x": {"field": "x", "type": "quantitative", "title": "Difference in structural complexity", "scale": {"domain": [-0.61, 0.842], "nice": false, "zero": false}, "axis": {"values": [-0.5, 0, 0.5], "format": ".1f"}}},
   "layer": [
    {"data": {"name": "dens"}, "transform": [{"filter": "datum.p == 'f' && datum.x <= 0"}, {"calculate": "0", "as": "b"}, {"calculate": "datum.b + datum.d", "as": "t"}], "mark": {"type": "area", "color": "#E88379", "interpolate": "monotone"}, "encoding": {"y": {"field": "t", "type": "quantitative", "stack": null, "title": null, "scale": {"domain": [-0.048, 1.047], "nice": false, "zero": false}, "axis": {"values": [0], "labelExpr": "'surveys'", "minExtent": 122}}, "y2": {"field": "b"}, "detail": {"field": "c"}}},
    {"data": {"name": "dens"}, "transform": [{"filter": "datum.p == 'f' && datum.x >= 0"}, {"calculate": "0", "as": "b"}, {"calculate": "datum.b + datum.d", "as": "t"}], "mark": {"type": "area", "color": "#679CD3", "interpolate": "monotone"}, "encoding": {"y": {"field": "t", "type": "quantitative", "stack": null, "title": null, "scale": {"domain": [-0.048, 1.047], "nice": false, "zero": false}}, "y2": {"field": "b"}, "detail": {"field": "c"}}},
    {"data": {"values": [{"x": 0}]}, "mark": {"type": "rule", "color": "black", "strokeWidth": 2, "strokeDash": [7, 8]}, "encoding": {}},
    {"data": {"name": "iv"}, "transform": [{"filter": "datum.p == 'f' && datum.k == 'thin'"}, {"calculate": "0", "as": "t"}], "mark": {"type": "rule", "color": "black", "strokeWidth": 3}, "encoding": {"y": {"field": "t", "type": "quantitative", "title": null, "scale": {"domain": [-0.048, 1.047], "nice": false, "zero": false}}, "x2": {"field": "x2"}}},
    {"data": {"name": "iv"}, "transform": [{"filter": "datum.p == 'f' && datum.k == 'thick'"}, {"calculate": "0", "as": "t"}], "mark": {"type": "rule", "color": "black", "strokeWidth": 7.5}, "encoding": {"y": {"field": "t", "type": "quantitative", "title": null, "scale": {"domain": [-0.048, 1.047], "nice": false, "zero": false}}, "x2": {"field": "x2"}}},
    {"data": {"name": "iv"}, "transform": [{"filter": "datum.p == 'f' && datum.k == 'pt'"}, {"calculate": "0", "as": "t"}], "mark": {"type": "circle", "color": "black", "opacity": 1, "size": 220}, "encoding": {"y": {"field": "t", "type": "quantitative", "title": null, "scale": {"domain": [-0.048, 1.047], "nice": false, "zero": false}}}}
   ]
  },
  {"width": 426, "height": 235, "title": "g",
   "encoding": {"x": {"field": "x", "type": "quantitative", "title": "Difference in coral cover", "scale": {"domain": [-11.4, 15.88], "nice": false, "zero": false}, "axis": {"values": [-10, -5, 0, 5, 10, 15]}}},
   "layer": [
    {"data": {"name": "dens"}, "transform": [{"filter": "datum.p == 'g' && datum.x <= 0"}, {"calculate": "0", "as": "b"}, {"calculate": "datum.b + datum.d", "as": "t"}], "mark": {"type": "area", "color": "#E88379", "interpolate": "monotone"}, "encoding": {"y": {"field": "t", "type": "quantitative", "stack": null, "title": null, "scale": {"domain": [-0.048, 1.047], "nice": false, "zero": false}, "axis": {"values": [0], "labelExpr": "'surveys'", "minExtent": 122}}, "y2": {"field": "b"}, "detail": {"field": "c"}}},
    {"data": {"name": "dens"}, "transform": [{"filter": "datum.p == 'g' && datum.x >= 0"}, {"calculate": "0", "as": "b"}, {"calculate": "datum.b + datum.d", "as": "t"}], "mark": {"type": "area", "color": "#679CD3", "interpolate": "monotone"}, "encoding": {"y": {"field": "t", "type": "quantitative", "stack": null, "title": null, "scale": {"domain": [-0.048, 1.047], "nice": false, "zero": false}}, "y2": {"field": "b"}, "detail": {"field": "c"}}},
    {"data": {"values": [{"x": 0}]}, "mark": {"type": "rule", "color": "black", "strokeWidth": 2, "strokeDash": [7, 8]}, "encoding": {}},
    {"data": {"name": "iv"}, "transform": [{"filter": "datum.p == 'g' && datum.k == 'thin'"}, {"calculate": "0", "as": "t"}], "mark": {"type": "rule", "color": "black", "strokeWidth": 3}, "encoding": {"y": {"field": "t", "type": "quantitative", "title": null, "scale": {"domain": [-0.048, 1.047], "nice": false, "zero": false}}, "x2": {"field": "x2"}}},
    {"data": {"name": "iv"}, "transform": [{"filter": "datum.p == 'g' && datum.k == 'thick'"}, {"calculate": "0", "as": "t"}], "mark": {"type": "rule", "color": "black", "strokeWidth": 7.5}, "encoding": {"y": {"field": "t", "type": "quantitative", "title": null, "scale": {"domain": [-0.048, 1.047], "nice": false, "zero": false}}, "x2": {"field": "x2"}}},
    {"data": {"name": "iv"}, "transform": [{"filter": "datum.p == 'g' && datum.k == 'pt'"}, {"calculate": "0", "as": "t"}], "mark": {"type": "circle", "color": "black", "opacity": 1, "size": 220}, "encoding": {"y": {"field": "t", "type": "quantitative", "title": null, "scale": {"domain": [-0.048, 1.047], "nice": false, "zero": false}}}}
   ]
  }
 ]}
]
}
